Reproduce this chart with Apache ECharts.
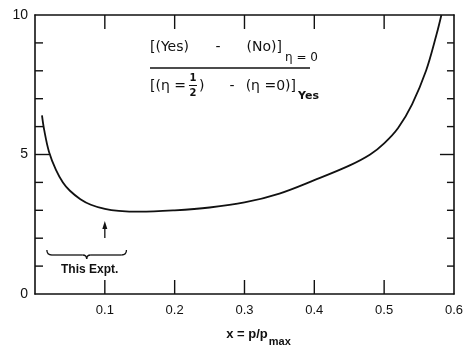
<!DOCTYPE html>
<html>
<head>
<meta charset="utf-8">
<script src="https://cdn.jsdelivr.net/npm/echarts@6/dist/echarts.min.js"></script>
<style>
  html, body { margin: 0; padding: 0; background: #fff; }
  #chart { width: 466px; height: 351px; }
</style>
</head>
<body>
<div id="chart"></div>
<script>
// Momentum fraction x = p/p_max and the sensitivity ratio
const momentumFraction = [0.010, 0.013, 0.020, 0.030, 0.040, 0.050, 0.065, 0.080, 0.100, 0.120, 0.150,
                          0.200, 0.250, 0.300, 0.350, 0.400, 0.450, 0.480, 0.500, 0.520, 0.540, 0.560, 0.575, 0.582];
const ratioValues      = [6.40, 5.90, 5.10, 4.45, 4.00, 3.70, 3.40, 3.20, 3.05, 2.98, 2.95,
                          3.00, 3.10, 3.28, 3.60, 4.08, 4.60, 5.00, 5.40, 5.95, 6.80, 8.00, 9.30, 10.0];
const yTickLabels = ['0', '5', '10'];
const xTickValues = [0.1, 0.2, 0.3, 0.4, 0.5];
const yMajorTicks = [5];
const yMinorTicks = [1, 2, 3, 4, 6, 7, 8, 9];
const experimentX = 0.1;          // arrow marking this experiment
const experimentRange = [0.017, 0.131];

const INK = '#111';
const FONT = 'Liberation Sans';
const FFONT = 'DejaVu Sans';      // formula lettering
const chart = echarts.init(document.getElementById('chart'));

// text measuring for laying out the formula pieces side by side
const ctx = document.createElement('canvas').getContext('2d');
function w(str, size, weight, family) {
  ctx.font = (weight || 'normal') + ' ' + size + 'px "' + (family || FONT) + '"';
  return ctx.measureText(str).width;
}
function txt(str, x, y, size, weight, align, family) {
  return {
    type: 'text', x: x, y: y, silent: true,
    style: { text: str, fill: INK, font: (weight || 'normal') + ' ' + size + 'px "' + (family || FONT) + '"',
      verticalAlign: 'middle', align: align || 'left' }
  };
}
function seg(x1, y1, x2, y2, lw) {
  return { type: 'line', silent: true, shape: { x1: x1, y1: y1, x2: x2, y2: y2 },
    style: { stroke: INK, lineWidth: lw || 1.3 } };
}
function curve(x1, y1, cx, cy, x2, y2) {
  return { type: 'bezierCurve', silent: true,
    shape: { x1: x1, y1: y1, cpx1: cx, cpy1: cy, x2: x2, y2: y2 },
    style: { stroke: INK, lineWidth: 1.3, fill: null } };
}

function axisLine() { return { show: true, onZero: false, lineStyle: { color: INK, width: 1.6 } }; }
const labelStyle = { color: INK, fontSize: 13, fontFamily: FONT };

chart.setOption({
  animation: false,
  backgroundColor: '#fff',
  grid: { left: 35, right: 9, top: 15, bottom: 57 },
  xAxis: [
    { type: 'value', position: 'bottom', min: 0, max: 0.6, interval: 0.1,
      axisLine: axisLine(), axisTick: { show: false },
      axisLabel: Object.assign({ margin: 10, formatter: v => (v === 0 ? '' : v.toFixed(1)) }, labelStyle),
      splitLine: { show: false } },
    { type: 'value', position: 'top', min: 0, max: 0.6, interval: 0.1,
      axisLine: axisLine(), axisTick: { show: false },
      axisLabel: { show: false },
      splitLine: { show: false } }
  ],
  yAxis: [
    { type: 'value', position: 'left', min: 0, max: 10, interval: 5,
      axisLine: axisLine(), axisTick: { show: false },
      axisLabel: Object.assign({ margin: 7, formatter: v => yTickLabels[v / 5] }, labelStyle, { fontSize: 14 }),
      splitLine: { show: false } },
    { type: 'value', position: 'right', min: 0, max: 10, interval: 5,
      axisLine: axisLine(), axisTick: { show: false },
      axisLabel: { show: false },
      splitLine: { show: false } }
  ],
  series: [{
    type: 'line',
    data: momentumFraction.map((x, i) => [x, ratioValues[i]]),
    smooth: 0.35,
    symbol: 'none',
    lineStyle: { color: INK, width: 1.8 },
    clip: true
  }]
});

const g = [];

// inward ticks on all four sides of the frame, placed through the axes' scales
const x0 = chart.convertToPixel({ xAxisIndex: 0 }, 0);
const x1 = chart.convertToPixel({ xAxisIndex: 0 }, 0.6);
const yBot = chart.convertToPixel({ yAxisIndex: 0 }, 0);
const yTop = chart.convertToPixel({ yAxisIndex: 0 }, 10);
xTickValues.forEach(v => {
  const px = chart.convertToPixel({ xAxisIndex: 0 }, v);
  g.push(seg(px, yBot, px, yBot - 14, 1.4));
  g.push(seg(px, yTop, px, yTop + 14, 1.4));
});
yMajorTicks.forEach(v => {
  const py = chart.convertToPixel({ yAxisIndex: 0 }, v);
  g.push(seg(x0, py, x0 + 14, py, 1.4));
  g.push(seg(x1, py, x1 - 14, py, 1.4));
});
yMinorTicks.forEach(v => {
  const py = chart.convertToPixel({ yAxisIndex: 0 }, v);
  g.push(seg(x0, py, x0 + 8, py, 1.4));
  g.push(seg(x1, py, x1 - 7, py, 1.4));
});

// formula: numerator [(Yes) - (No)] with subscript η = 0
const FS = 14;
const FW = 'normal';
g.push(txt('[(Yes)', 150, 47, FS, FW, 'left', FFONT));
g.push(txt('-', 218, 47, FS, FW, 'center', FFONT));
g.push(txt('(No)]', 282 - w('(No)]', FS, FW, FFONT), 47, FS, FW, 'left', FFONT));
g.push(txt('η = 0', 285, 58, 12, FW, 'left', FFONT));

// fraction bar
g.push(seg(150, 68, 310, 68, 1.3));

// denominator: [(η = ½) - (η = 0)] with subscript Yes
let dx = 150;
const d1 = '[(η =';
g.push(txt(d1, dx, 86, FS, FW, 'left', FFONT));
dx += w(d1, FS, FW, FFONT) + 3;
g.push(txt('1', dx + 4, 78, 10, 'bold', 'center', FFONT));
g.push(seg(dx, 85.5, dx + 8, 85.5, 1));
g.push(txt('2', dx + 4, 93, 10, 'bold', 'center', FFONT));
g.push(txt(')', dx + 10, 86, FS, FW, 'left', FFONT));
const d3 = '(η =0)]';
const d3x = 296 - w(d3, FS, FW, FFONT);
g.push(txt('-', 232, 86, FS, FW, 'center', FFONT));
g.push(txt(d3, d3x, 86, FS, FW, 'left', FFONT));
g.push(txt('Yes', 298, 96, 11, 'bold', 'left', FFONT));

// arrow at this experiment's momentum fraction
const ax = chart.convertToPixel({ xAxisIndex: 0 }, experimentX);
g.push(seg(ax, 238, ax, 225, 1.3));
g.push({ type: 'polygon', silent: true, shape: { points: [[ax, 221], [ax - 2.5, 229], [ax + 2.5, 229]] },
  style: { fill: INK } });

// curly brace spanning the range of this experiment
const bx1 = chart.convertToPixel({ xAxisIndex: 0 }, experimentRange[0]);
const bx2 = chart.convertToPixel({ xAxisIndex: 0 }, experimentRange[1]);
const bm = (bx1 + bx2) / 2;
g.push(curve(bx1, 250, bx1, 255, bx1 + 5, 255));
g.push(seg(bx1 + 5, 255, bm - 4, 255));
g.push(curve(bm - 4, 255, bm, 255, bm, 259));
g.push(curve(bm, 259, bm, 255, bm + 4, 255));
g.push(seg(bm + 4, 255, bx2 - 5, 255));
g.push(curve(bx2 - 5, 255, bx2, 255, bx2, 250));
g.push(txt('This Expt.', bm + 3, 270, 12, 'bold', 'center'));

// axis title x = p/p_max
const t1 = 'x = p/p';
const tw = w(t1, 13, 'bold') + w('max', 11, 'bold');
const tx = 258 - tw / 2;
g.push(txt(t1, tx, 334, 13, 'bold'));
g.push(txt('max', tx + w(t1, 13, 'bold') + 1, 342, 11, 'bold'));

chart.setOption({ graphic: g });
</script>
</body>
</html>
